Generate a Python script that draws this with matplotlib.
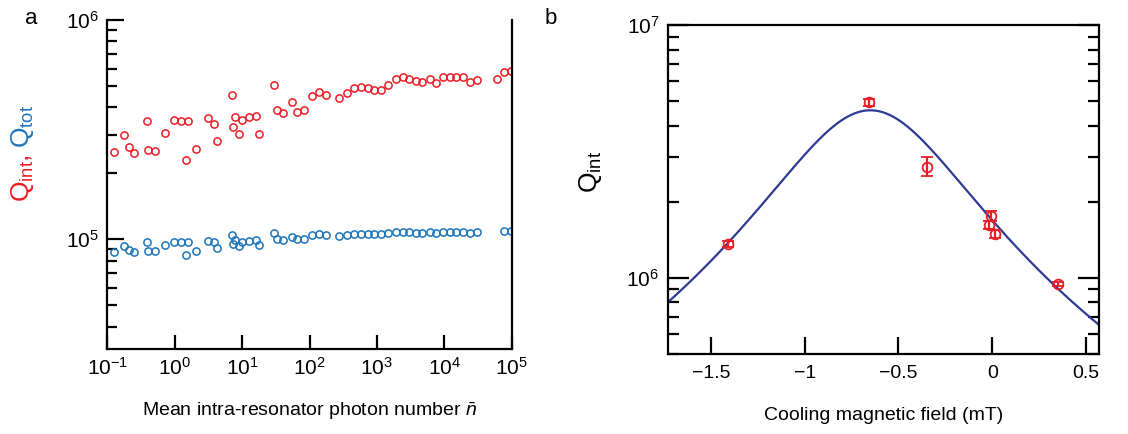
import numpy as np
import matplotlib
matplotlib.use("Agg")
import matplotlib.pyplot as plt
from matplotlib.ticker import LogLocator, NullFormatter, FixedLocator

plt.rcParams['font.family'] = ['Liberation Sans', 'DejaVu Sans']
plt.rcParams['mathtext.fontset'] = 'custom'
plt.rcParams['mathtext.rm'] = 'Liberation Sans'
plt.rcParams['mathtext.it'] = 'Liberation Sans:italic'
plt.rcParams['mathtext.bf'] = 'Liberation Sans:bold'

# ---------------- panel a data ----------------
photon_n = [0.126, 0.179, 0.208, 0.249, 0.388, 0.405, 0.511, 0.727, 0.99, 1.23,
            1.56, 1.49, 2.05, 3.12, 3.83, 4.29, 7.08, 7.93, 7.40, 9.08,
            9.86, 12.5, 15.9, 17.8, 29.4, 32.6, 40.5, 54.5, 64.6, 82.8,
            110, 138, 176, 277, 356, 462, 581, 738, 906, 1151,
            1476, 1901, 2415, 3027, 3767, 4721, 6067, 7447, 9572, 12020,
            15070, 18930, 23820, 30270, 59840, 76900, 98600]
q_int = [2.50e5, 2.98e5, 2.63e5, 2.48e5, 3.45e5, 2.56e5, 2.52e5, 3.04e5, 3.51e5, 3.45e5,
         3.47e5, 2.29e5, 2.58e5, 3.56e5, 3.37e5, 2.81e5, 4.55e5, 3.63e5, 3.24e5, 3.02e5,
         3.51e5, 3.61e5, 3.66e5, 3.01e5, 5.05e5, 3.89e5, 3.78e5, 4.23e5, 3.79e5, 3.89e5,
         4.51e5, 4.71e5, 4.56e5, 4.43e5, 4.64e5, 4.89e5, 4.94e5, 4.92e5, 4.81e5, 4.81e5,
         5.05e5, 5.38e5, 5.51e5, 5.41e5, 5.26e5, 5.23e5, 5.41e5, 5.16e5, 5.47e5, 5.47e5,
         5.52e5, 5.51e5, 5.24e5, 5.34e5, 5.38e5, 5.80e5, 5.86e5]
q_tot = [8.79e4, 9.32e4, 8.94e4, 8.75e4, 9.72e4, 8.89e4, 8.82e4, 9.39e4, 9.76e4, 9.72e4,
         9.72e4, 8.52e4, 8.89e4, 9.79e4, 9.69e4, 9.17e4, 1.043e5, 9.90e4, 9.56e4, 9.32e4,
         9.76e4, 9.82e4, 9.90e4, 9.39e4, 1.068e5, 1.00e5, 9.97e4, 1.029e5, 1.00e5, 1.00e5,
         1.043e5, 1.054e5, 1.043e5, 1.035e5, 1.046e5, 1.061e5, 1.061e5, 1.061e5, 1.054e5, 1.054e5,
         1.068e5, 1.079e5, 1.079e5, 1.079e5, 1.073e5, 1.073e5, 1.079e5, 1.068e5, 1.084e5, 1.084e5,
         1.084e5, 1.084e5, 1.073e5, 1.076e5, np.nan, 1.095e5, 1.095e5]

# ---------------- panel b data ----------------
field_mT = [-1.41, -0.655, -0.35, -0.005, -0.018, 0.012, 0.35]
q_int_b = [1.36e6, 4.95e6, 2.75e6, 1.76e6, 1.62e6, 1.49e6, 0.945e6]
q_int_b_lo = [1.32e6, 4.78e6, 2.52e6, 1.68e6, 1.56e6, 1.44e6, 0.925e6]
q_int_b_hi = [1.40e6, 5.12e6, 3.00e6, 1.84e6, 1.68e6, 1.54e6, 0.965e6]
# fit: 1/Q = 1/Q0 + k (B - B0)^2
fit_Q0 = 4.6e6
fit_B0 = -0.65
fit_k = 8.86e-7

RED = '#ec1c24'
BLUE = '#1c75bc'
NAVY = '#2e3a94'

fig = plt.figure(figsize=(11.28, 4.34), dpi=100)
W, H = 1128, 434

def box(l, t, r, b):
    return [l / W, 1 - b / H, (r - l) / W, (b - t) / H]

# ---------- panel a ----------
ax1 = fig.add_axes(box(107.3, 20, 511.7, 349))
ax1.set_xscale('log')
ax1.set_yscale('log')
ax1.plot(photon_n, q_int, 'o', mfc='none', mec=RED, ms=5.2, mew=1.1)
ax1.plot(photon_n, q_tot, 'o', mfc='none', mec=BLUE, ms=5.2, mew=1.1)
ax1.set_xlim(0.1, 1e5)
ax1.set_ylim(10 ** 4.5, 1e6)
ax1.xaxis.set_major_locator(FixedLocator([1e-1, 1e0, 1e1, 1e2, 1e3, 1e4, 1e5]))
ax1.xaxis.set_minor_locator(FixedLocator([]))
ax1.yaxis.set_major_locator(FixedLocator([1e5, 1e6]))
ax1.yaxis.set_minor_locator(LogLocator(base=10, subs=np.arange(2, 10)))
ax1.yaxis.set_minor_formatter(NullFormatter())
ax1.spines['top'].set_visible(False)
for s in ['left', 'bottom', 'right']:
    ax1.spines[s].set_linewidth(1.6)
ax1.tick_params(axis='both', which='both', direction='in', width=1.6, labelsize=15)
ax1.tick_params(axis='y', which='major', length=12, pad=6)
ax1.tick_params(axis='y', which='minor', length=7)
ax1.tick_params(axis='x', which='major', length=10, pad=6, top=False)
ax1.tick_params(axis='y', which='both', right=False)
ax1.set_xlabel(r'Mean intra-resonator photon number $\bar{n}$', fontsize=14, labelpad=15)

fig.text(22 / W, 1 - 178 / H, r'Q$_{\mathrm{int}}$,', color=RED, rotation=90,
         ha='center', va='center', fontsize=19)
fig.text(22 / W, 1 - 126 / H, r'Q$_{\mathrm{tot}}$', color=BLUE, rotation=90,
         ha='center', va='center', fontsize=19)
fig.text(31 / W, 1 - 18 / H, 'a', fontsize=16, ha='center', va='center')

# ---------- panel b ----------
ax2 = fig.add_axes(box(667.7, 25, 1099, 354))
ax2.set_yscale('log')
B = np.linspace(-1.8, 0.65, 400)
ax2.plot(B, 1.0 / (1.0 / fit_Q0 + fit_k * (B - fit_B0) ** 2), color=NAVY, lw=1.6, zorder=2)
yerr = [np.array(q_int_b) - np.array(q_int_b_lo), np.array(q_int_b_hi) - np.array(q_int_b)]
ax2.errorbar(field_mT, q_int_b, yerr=yerr, fmt='o', mfc='none', mec=RED, ecolor=RED,
             ms=7, mew=1.3, elinewidth=1.6, capsize=4, capthick=1.6, zorder=3)
ax2.set_xlim(-1.73, 0.569)
ax2.set_ylim(5e5, 1e7)
ax2.xaxis.set_major_locator(FixedLocator([-1.5, -1, -0.5, 0, 0.5]))
ax2.set_xticklabels(['\u22121.5', '\u22121', '\u22120.5', '0', '0.5'])
ax2.yaxis.set_major_locator(FixedLocator([1e6, 1e7]))
ax2.yaxis.set_minor_locator(LogLocator(base=10, subs=np.arange(2, 10)))
ax2.yaxis.set_minor_formatter(NullFormatter())
for s in ax2.spines.values():
    s.set_linewidth(1.6)
ax2.tick_params(axis='both', which='both', direction='in', width=1.6, labelsize=14)
ax2.tick_params(axis='y', which='major', length=15, pad=6, right=True, labelsize=15)
ax2.tick_params(axis='y', which='minor', length=8, right=True)
ax2.tick_params(axis='x', which='major', length=12, pad=8, top=False)
ax2.set_xlabel('Cooling magnetic field (mT)', fontsize=14, labelpad=18)
fig.text(590 / W, 1 - 172 / H, r'Q$_{\mathrm{int}}$', color='black', rotation=90,
         ha='center', va='center', fontsize=19)
fig.text(551 / W, 1 - 18 / H, 'b', fontsize=16, ha='center', va='center')

fig.savefig('out.png', dpi=100)
